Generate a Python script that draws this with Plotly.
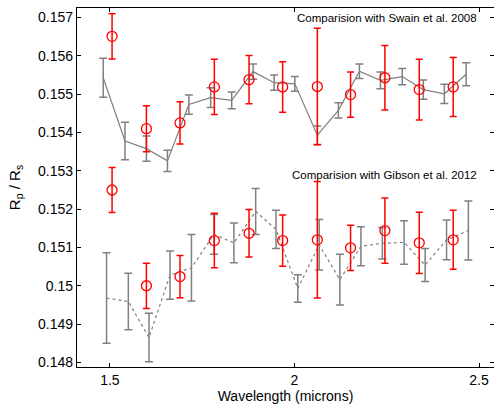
import plotly.graph_objects as go

# Swain et al. 2008 comparison (top)
swain_model_x = [1.482, 1.541, 1.599, 1.656, 1.714, 1.773, 1.830, 1.888, 1.945,
                 2.001, 2.062, 2.119, 2.176, 2.233, 2.292, 2.349, 2.406, 2.465]
swain_model_y = [0.15543, 0.15378, 0.15358, 0.15326, 0.15473, 0.15491, 0.15484, 0.15559, 0.15530,
                 0.15527, 0.15393, 0.15458, 0.15560, 0.15536, 0.15546, 0.15512, 0.15501, 0.15552]
swain_model_err = [0.00051, 0.00049, 0.00033, 0.00028, 0.00025, 0.00026, 0.00022, 0.00020, 0.00020,
                   0.00019, 0.00024, 0.00020, 0.00019, 0.00022, 0.00021, 0.00025, 0.00025, 0.00030]

swain_obs_x = [1.506, 1.599, 1.690, 1.783, 1.877, 1.968, 2.062, 2.152, 2.245, 2.338, 2.430]
swain_obs_y = [0.15651, 0.15410, 0.15425, 0.15519, 0.15538, 0.15519, 0.15520, 0.15499, 0.15543, 0.15512, 0.15519]
swain_obs_err = [0.00059, 0.00060, 0.00055, 0.00072, 0.00063, 0.00066, 0.00152, 0.00059, 0.00084, 0.00079, 0.00077]

# Gibson et al. 2012 comparison (bottom)
gibson_model_x = [1.491, 1.550, 1.606, 1.663, 1.721, 1.782, 1.836, 1.895, 1.950,
                  2.009, 2.067, 2.123, 2.180, 2.238, 2.297, 2.354, 2.412, 2.471]
gibson_model_y = [0.14968, 0.14959, 0.14865, 0.15028, 0.15047, 0.15134, 0.15112, 0.15194, 0.15147,
                  0.14993, 0.15107, 0.15016, 0.15103, 0.15111, 0.15113, 0.15054, 0.15120, 0.15144]
gibson_model_err = [0.00118, 0.00074, 0.00063, 0.00063, 0.00087, 0.00052, 0.00052, 0.00060, 0.00050,
                    0.00036, 0.00066, 0.00066, 0.00051, 0.00041, 0.00057, 0.00043, 0.00052, 0.00077]

gibson_obs_x = [1.506, 1.599, 1.690, 1.783, 1.877, 1.968, 2.062, 2.152, 2.245, 2.338, 2.430]
gibson_obs_y = [0.15250, 0.15000, 0.15024, 0.15118, 0.15137, 0.15118, 0.15120, 0.15099, 0.15144, 0.15112, 0.15120]
gibson_obs_err = [0.00059, 0.00059, 0.00055, 0.00071, 0.00062, 0.00067, 0.00152, 0.00059, 0.00085, 0.00080, 0.00077]

y_ticks = [0.148, 0.149, 0.150, 0.151, 0.152, 0.153, 0.154, 0.155, 0.156, 0.157]
y_tick_text = ["0.148", "0.149", "0.15", "0.151", "0.152", "0.153", "0.154", "0.155", "0.156", "0.157"]
x_ticks = [1.5, 2.0, 2.5]
x_tick_text = ["1.5", "2", "2.5"]

GRAY = "rgb(128,128,128)"
RED = "rgb(255,0,0)"

fig = go.Figure()

fig.add_trace(go.Scatter(
    x=swain_model_x, y=swain_model_y, mode="lines",
    line=dict(color=GRAY, width=1.2),
    error_y=dict(type="data", array=swain_model_err, color=GRAY, thickness=1.5, width=4),
    showlegend=False))
fig.add_trace(go.Scatter(
    x=gibson_model_x, y=gibson_model_y, mode="lines",
    line=dict(color=GRAY, width=1.2, dash="3px,3px"),
    error_y=dict(type="data", array=gibson_model_err, color=GRAY, thickness=1.5, width=4),
    showlegend=False))
fig.add_trace(go.Scatter(
    x=swain_obs_x, y=swain_obs_y, mode="markers",
    marker=dict(symbol="circle-open", size=10, color=RED, line=dict(width=1.3, color=RED)),
    error_y=dict(type="data", array=swain_obs_err, color=RED, thickness=1.5, width=3.5),
    showlegend=False))
fig.add_trace(go.Scatter(
    x=gibson_obs_x, y=gibson_obs_y, mode="markers",
    marker=dict(symbol="circle-open", size=10, color=RED, line=dict(width=1.3, color=RED)),
    error_y=dict(type="data", array=gibson_obs_err, color=RED, thickness=1.5, width=3.5),
    showlegend=False))

fig.add_annotation(text="Comparision with Swain et al. 2008", x=2.5, y=0.15698,
                   xref="x", yref="y", xanchor="right", yanchor="middle", showarrow=False,
                   font=dict(size=11.5, color="black"))
fig.add_annotation(text="Comparision with Gibson et al. 2012", x=2.5, y=0.15288,
                   xref="x", yref="y", xanchor="right", yanchor="middle", showarrow=False,
                   font=dict(size=11.5, color="black"))

axis_common = dict(showline=True, linecolor="black", linewidth=1.3, mirror="ticks",
                   ticks="inside", ticklen=4, tickcolor="black", showgrid=False, zeroline=False,
                   tickfont=dict(size=14, color="black"))

fig.update_xaxes(range=[1.411, 2.5405], tickvals=x_ticks, ticktext=x_tick_text,
                 title=dict(text="Wavelength (microns)", font=dict(size=14, color="black"), standoff=0),
                 **axis_common)
fig.update_yaxes(range=[0.14788, 0.15725], tickvals=y_ticks, ticktext=y_tick_text,
                 title=dict(text="R<sub>p</sub> / R<sub>s</sub>", font=dict(size=15, color="black"), standoff=13),
                 **axis_common)

fig.update_layout(width=494, height=408,
                  margin=dict(l=77, r=0, t=8, b=41),
                  paper_bgcolor="white", plot_bgcolor="white",
                  font=dict(family="Liberation Sans, Arial, sans-serif", color="black"))

fig.write_html("out.html", config={"displayModeBar": False},
               post_script="document.body.style.margin='0';document.body.style.overflow='hidden';")
